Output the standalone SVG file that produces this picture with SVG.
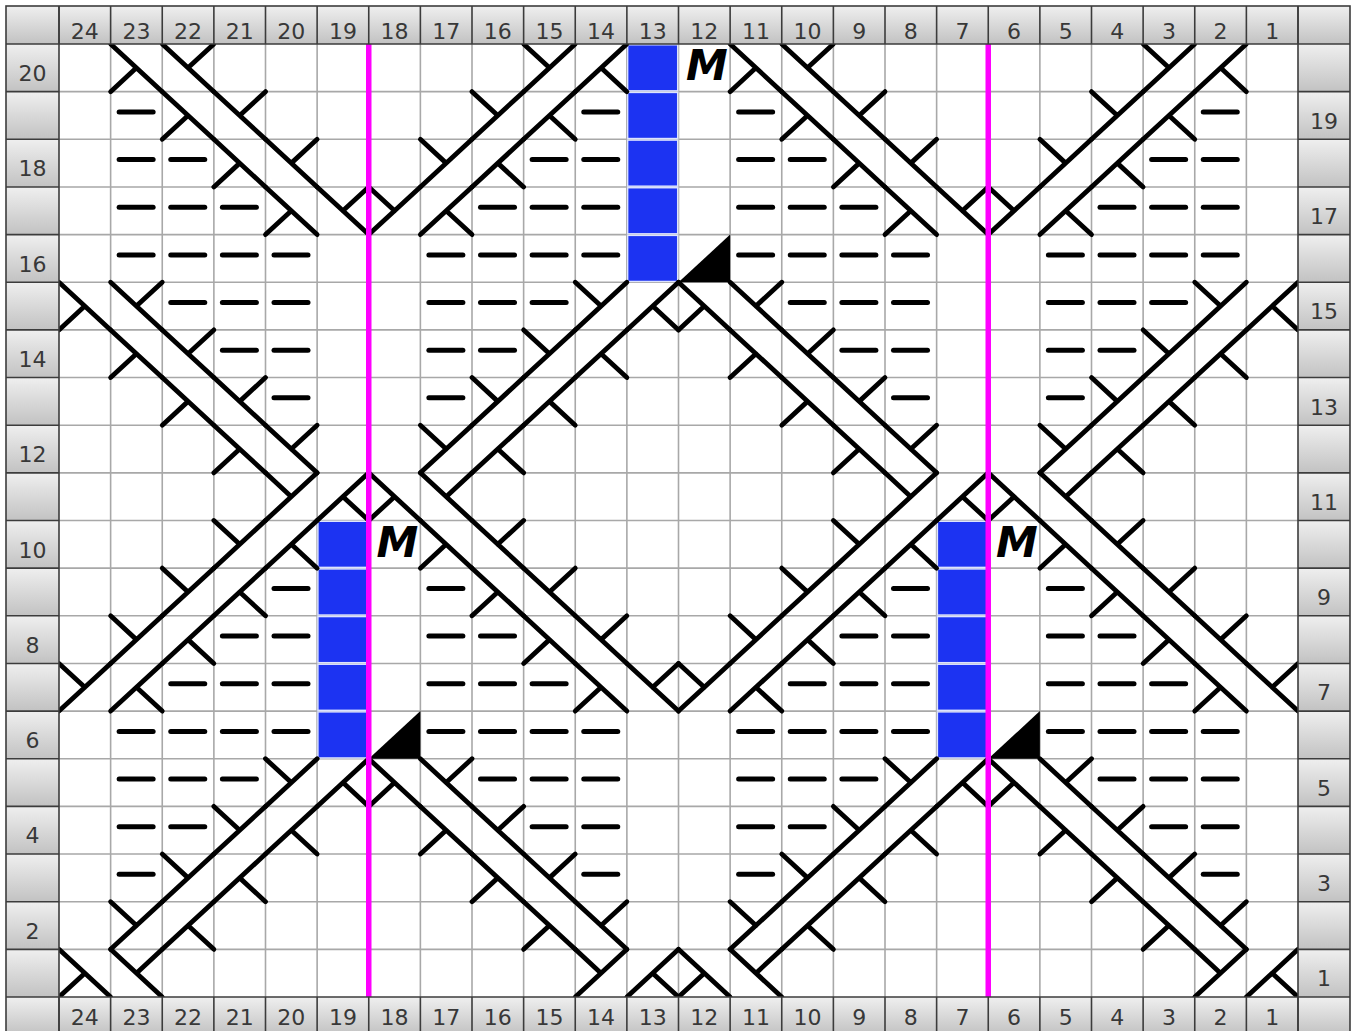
<svg xmlns="http://www.w3.org/2000/svg" xmlns:xlink="http://www.w3.org/1999/xlink" width="1354" height="1031" viewBox="0 0 1354 1031">
<style>
.g{stroke:#a8a8a8;stroke-width:1.6;fill:none}
.s{stroke:#000;stroke-width:4.8;fill:none;stroke-linecap:round}
.hs{stroke:#3c3c3c;stroke-width:1.6;fill:none}
.n{font-family:"DejaVu Sans",Verdana,sans-serif;font-size:22px;fill:#383838;text-anchor:middle}
.M{font-family:"DejaVu Sans",sans-serif;font-size:42px;font-weight:bold;font-style:oblique;fill:#000}
.bl{fill:#1c33f2;stroke:#dce3ff;stroke-width:1.4}
.mg{stroke:#f0f;stroke-width:5.5;fill:none}
</style>
<defs>
<linearGradient id="hg" x1="0" y1="0" x2="0" y2="1"><stop offset="0" stop-color="#efefef"/><stop offset="1" stop-color="#c2c2c2"/></linearGradient>
<pattern id="sp" patternUnits="userSpaceOnUse" x="0" y="44" width="1354" height="47.65"><rect width="1354" height="47.65" fill="url(#hg)"/></pattern>
<path id="a" d="M0,0L51.625,47.65M0,47.65L25.81,23.83"/>
<path id="b" d="M0,0L51.625,47.65M51.625,0L25.81,23.83"/>
<path id="c" d="M0,47.65L51.625,0M0,0L25.81,23.83"/>
<path id="d" d="M0,47.65L51.625,0M51.625,47.65L25.81,23.83"/>
<path id="m" d="M8.5,20.3H42.5" stroke-width="5"/>
<path id="t" d="M0,47.65H51.625V0Z" fill="#000" stroke="none"/>
<rect id="q" x="0.8" y="0.8" width="50" height="46.05"/>
</defs>
<rect width="1354" height="1031" fill="#fff"/>
<g id="grid" class="g">
<path d="M110.625,44V997M162.25,44V997M213.875,44V997M265.5,44V997M317.125,44V997M368.75,44V997M420.375,44V997M472,44V997M523.625,44V997M575.25,44V997M626.875,44V997M678.5,44V997M730.125,44V997M781.75,44V997M833.375,44V997M885,44V997M936.625,44V997M988.25,44V997M1039.875,44V997M1091.5,44V997M1143.125,44V997M1194.75,44V997M1246.375,44V997"/>
<path d="M59,91.65H1298M59,139.3H1298M59,186.95H1298M59,234.6H1298M59,282.25H1298M59,329.9H1298M59,377.55H1298M59,425.2H1298M59,472.85H1298M59,520.5H1298M59,568.15H1298M59,615.8H1298M59,663.45H1298M59,711.1H1298M59,758.75H1298M59,806.4H1298M59,854.05H1298M59,901.7H1298M59,949.35H1298"/>
</g>
<g id="blue" class="bl">
<use href="#q" x="626.875" y="44"/><use href="#q" x="626.875" y="91.65"/><use href="#q" x="626.875" y="139.3"/><use href="#q" x="626.875" y="186.95"/><use href="#q" x="626.875" y="234.6"/>
<use href="#q" x="317.125" y="520.5"/><use href="#q" x="317.125" y="568.15"/><use href="#q" x="317.125" y="615.8"/><use href="#q" x="317.125" y="663.45"/><use href="#q" x="317.125" y="711.1"/>
<use href="#q" x="936.625" y="520.5"/><use href="#q" x="936.625" y="568.15"/><use href="#q" x="936.625" y="615.8"/><use href="#q" x="936.625" y="663.45"/><use href="#q" x="936.625" y="711.1"/>
</g>
<g id="triangles">
<use href="#t" x="678.5" y="234.6"/><use href="#t" x="368.75" y="711.1"/><use href="#t" x="988.25" y="711.1"/>
</g>
<g id="stitches" class="s">
<g transform="translate(0,44)"><use href="#c" x="523.625"/><use href="#d" x="575.25"/><use href="#a" x="730.125"/><use href="#b" x="781.75"/><use href="#c" x="1143.125"/><use href="#d" x="1194.75"/><use href="#a" x="110.625"/><use href="#b" x="162.25"/></g>
<g transform="translate(0,91.65)"><use href="#c" x="472"/><use href="#d" x="523.625"/><use href="#m" x="575.25"/><use href="#m" x="730.125"/><use href="#a" x="781.75"/><use href="#b" x="833.375"/><use href="#c" x="1091.5"/><use href="#d" x="1143.125"/><use href="#m" x="1194.75"/><use href="#m" x="110.625"/><use href="#a" x="162.25"/><use href="#b" x="213.875"/></g>
<g transform="translate(0,139.3)"><use href="#c" x="420.375"/><use href="#d" x="472"/><use href="#m" x="523.625"/><use href="#m" x="575.25"/><use href="#m" x="730.125"/><use href="#m" x="781.75"/><use href="#a" x="833.375"/><use href="#b" x="885"/><use href="#c" x="1039.875"/><use href="#d" x="1091.5"/><use href="#m" x="1143.125"/><use href="#m" x="1194.75"/><use href="#m" x="110.625"/><use href="#m" x="162.25"/><use href="#a" x="213.875"/><use href="#b" x="265.5"/></g>
<g transform="translate(0,186.95)"><use href="#c" x="368.75"/><use href="#d" x="420.375"/><use href="#m" x="472"/><use href="#m" x="523.625"/><use href="#m" x="575.25"/><use href="#m" x="730.125"/><use href="#m" x="781.75"/><use href="#m" x="833.375"/><use href="#a" x="885"/><use href="#b" x="936.625"/><use href="#c" x="988.25"/><use href="#d" x="1039.875"/><use href="#m" x="1091.5"/><use href="#m" x="1143.125"/><use href="#m" x="1194.75"/><use href="#m" x="110.625"/><use href="#m" x="162.25"/><use href="#m" x="213.875"/><use href="#a" x="265.5"/><use href="#b" x="317.125"/></g>
<g transform="translate(0,234.6)"><use href="#m" x="420.375"/><use href="#m" x="472"/><use href="#m" x="523.625"/><use href="#m" x="575.25"/><use href="#m" x="730.125"/><use href="#m" x="781.75"/><use href="#m" x="833.375"/><use href="#m" x="885"/><use href="#m" x="1039.875"/><use href="#m" x="1091.5"/><use href="#m" x="1143.125"/><use href="#m" x="1194.75"/><use href="#m" x="110.625"/><use href="#m" x="162.25"/><use href="#m" x="213.875"/><use href="#m" x="265.5"/></g>
<g transform="translate(0,282.25)"><use href="#m" x="420.375"/><use href="#m" x="472"/><use href="#m" x="523.625"/><use href="#c" x="575.25"/><use href="#d" x="626.875"/><use href="#a" x="678.5"/><use href="#b" x="730.125"/><use href="#m" x="781.75"/><use href="#m" x="833.375"/><use href="#m" x="885"/><use href="#m" x="1039.875"/><use href="#m" x="1091.5"/><use href="#m" x="1143.125"/><use href="#c" x="1194.75"/><use href="#d" x="1246.375"/><use href="#a" x="59"/><use href="#b" x="110.625"/><use href="#m" x="162.25"/><use href="#m" x="213.875"/><use href="#m" x="265.5"/></g>
<g transform="translate(0,329.9)"><use href="#m" x="420.375"/><use href="#m" x="472"/><use href="#c" x="523.625"/><use href="#d" x="575.25"/><use href="#a" x="730.125"/><use href="#b" x="781.75"/><use href="#m" x="833.375"/><use href="#m" x="885"/><use href="#m" x="1039.875"/><use href="#m" x="1091.5"/><use href="#c" x="1143.125"/><use href="#d" x="1194.75"/><use href="#a" x="110.625"/><use href="#b" x="162.25"/><use href="#m" x="213.875"/><use href="#m" x="265.5"/></g>
<g transform="translate(0,377.55)"><use href="#m" x="420.375"/><use href="#c" x="472"/><use href="#d" x="523.625"/><use href="#a" x="781.75"/><use href="#b" x="833.375"/><use href="#m" x="885"/><use href="#m" x="1039.875"/><use href="#c" x="1091.5"/><use href="#d" x="1143.125"/><use href="#a" x="162.25"/><use href="#b" x="213.875"/><use href="#m" x="265.5"/></g>
<g transform="translate(0,425.2)"><use href="#c" x="420.375"/><use href="#d" x="472"/><use href="#a" x="833.375"/><use href="#b" x="885"/><use href="#c" x="1039.875"/><use href="#d" x="1091.5"/><use href="#a" x="213.875"/><use href="#b" x="265.5"/></g>
<g transform="translate(0,472.85)"><use href="#a" x="368.75"/><use href="#b" x="420.375"/><use href="#c" x="885"/><use href="#d" x="936.625"/><use href="#a" x="988.25"/><use href="#b" x="1039.875"/><use href="#c" x="265.5"/><use href="#d" x="317.125"/></g>
<g transform="translate(0,520.5)"><use href="#c" x="213.875"/><use href="#d" x="265.5"/><use href="#a" x="420.375"/><use href="#b" x="472"/><use href="#c" x="833.375"/><use href="#d" x="885"/><use href="#a" x="1039.875"/><use href="#b" x="1091.5"/></g>
<g transform="translate(0,568.15)"><use href="#c" x="162.25"/><use href="#d" x="213.875"/><use href="#m" x="265.5"/><use href="#m" x="420.375"/><use href="#a" x="472"/><use href="#b" x="523.625"/><use href="#c" x="781.75"/><use href="#d" x="833.375"/><use href="#m" x="885"/><use href="#m" x="1039.875"/><use href="#a" x="1091.5"/><use href="#b" x="1143.125"/></g>
<g transform="translate(0,615.8)"><use href="#c" x="110.625"/><use href="#d" x="162.25"/><use href="#m" x="213.875"/><use href="#m" x="265.5"/><use href="#m" x="420.375"/><use href="#m" x="472"/><use href="#a" x="523.625"/><use href="#b" x="575.25"/><use href="#c" x="730.125"/><use href="#d" x="781.75"/><use href="#m" x="833.375"/><use href="#m" x="885"/><use href="#m" x="1039.875"/><use href="#m" x="1091.5"/><use href="#a" x="1143.125"/><use href="#b" x="1194.75"/></g>
<g transform="translate(0,663.45)"><use href="#c" x="59"/><use href="#d" x="110.625"/><use href="#m" x="162.25"/><use href="#m" x="213.875"/><use href="#m" x="265.5"/><use href="#m" x="420.375"/><use href="#m" x="472"/><use href="#m" x="523.625"/><use href="#a" x="575.25"/><use href="#b" x="626.875"/><use href="#c" x="678.5"/><use href="#d" x="730.125"/><use href="#m" x="781.75"/><use href="#m" x="833.375"/><use href="#m" x="885"/><use href="#m" x="1039.875"/><use href="#m" x="1091.5"/><use href="#m" x="1143.125"/><use href="#a" x="1194.75"/><use href="#b" x="1246.375"/></g>
<g transform="translate(0,711.1)"><use href="#m" x="110.625"/><use href="#m" x="162.25"/><use href="#m" x="213.875"/><use href="#m" x="265.5"/><use href="#m" x="420.375"/><use href="#m" x="472"/><use href="#m" x="523.625"/><use href="#m" x="575.25"/><use href="#m" x="730.125"/><use href="#m" x="781.75"/><use href="#m" x="833.375"/><use href="#m" x="885"/><use href="#m" x="1039.875"/><use href="#m" x="1091.5"/><use href="#m" x="1143.125"/><use href="#m" x="1194.75"/></g>
<g transform="translate(0,758.75)"><use href="#m" x="110.625"/><use href="#m" x="162.25"/><use href="#m" x="213.875"/><use href="#c" x="265.5"/><use href="#d" x="317.125"/><use href="#a" x="368.75"/><use href="#b" x="420.375"/><use href="#m" x="472"/><use href="#m" x="523.625"/><use href="#m" x="575.25"/><use href="#m" x="730.125"/><use href="#m" x="781.75"/><use href="#m" x="833.375"/><use href="#c" x="885"/><use href="#d" x="936.625"/><use href="#a" x="988.25"/><use href="#b" x="1039.875"/><use href="#m" x="1091.5"/><use href="#m" x="1143.125"/><use href="#m" x="1194.75"/></g>
<g transform="translate(0,806.4)"><use href="#m" x="110.625"/><use href="#m" x="162.25"/><use href="#c" x="213.875"/><use href="#d" x="265.5"/><use href="#a" x="420.375"/><use href="#b" x="472"/><use href="#m" x="523.625"/><use href="#m" x="575.25"/><use href="#m" x="730.125"/><use href="#m" x="781.75"/><use href="#c" x="833.375"/><use href="#d" x="885"/><use href="#a" x="1039.875"/><use href="#b" x="1091.5"/><use href="#m" x="1143.125"/><use href="#m" x="1194.75"/></g>
<g transform="translate(0,854.05)"><use href="#m" x="110.625"/><use href="#c" x="162.25"/><use href="#d" x="213.875"/><use href="#a" x="472"/><use href="#b" x="523.625"/><use href="#m" x="575.25"/><use href="#m" x="730.125"/><use href="#c" x="781.75"/><use href="#d" x="833.375"/><use href="#a" x="1091.5"/><use href="#b" x="1143.125"/><use href="#m" x="1194.75"/></g>
<g transform="translate(0,901.7)"><use href="#c" x="110.625"/><use href="#d" x="162.25"/><use href="#a" x="523.625"/><use href="#b" x="575.25"/><use href="#c" x="730.125"/><use href="#d" x="781.75"/><use href="#a" x="1143.125"/><use href="#b" x="1194.75"/></g>
<g transform="translate(0,949.35)"><use href="#a" x="59"/><use href="#b" x="110.625"/><use href="#c" x="575.25"/><use href="#d" x="626.875"/><use href="#a" x="678.5"/><use href="#b" x="730.125"/><use href="#c" x="1194.75"/><use href="#d" x="1246.375"/></g>
</g>
<g id="marks">
<text class="M" x="686" y="80">M</text>
<text class="M" x="376.5" y="556.5">M</text>
<text class="M" x="996" y="556.5">M</text>
</g>
<g id="magenta" class="mg"><path d="M368.75,44V997M988.25,44V997"/></g>
<g id="headers">
<rect x="6" y="6" width="1344" height="38" fill="url(#hg)"/>
<rect x="6" y="997" width="1344" height="38" fill="url(#hg)"/>
<rect x="6" y="44" width="53" height="953" fill="url(#sp)"/>
<rect x="1298" y="44" width="52" height="953" fill="url(#sp)"/>
<path class="hs" d="M59,6V44M110.625,6V44M162.25,6V44M213.875,6V44M265.5,6V44M317.125,6V44M368.75,6V44M420.375,6V44M472,6V44M523.625,6V44M575.25,6V44M626.875,6V44M678.5,6V44M730.125,6V44M781.75,6V44M833.375,6V44M885,6V44M936.625,6V44M988.25,6V44M1039.875,6V44M1091.5,6V44M1143.125,6V44M1194.75,6V44M1246.375,6V44M1298,6V44"/>
<path class="hs" d="M59,997V1035M110.625,997V1035M162.25,997V1035M213.875,997V1035M265.5,997V1035M317.125,997V1035M368.75,997V1035M420.375,997V1035M472,997V1035M523.625,997V1035M575.25,997V1035M626.875,997V1035M678.5,997V1035M730.125,997V1035M781.75,997V1035M833.375,997V1035M885,997V1035M936.625,997V1035M988.25,997V1035M1039.875,997V1035M1091.5,997V1035M1143.125,997V1035M1194.75,997V1035M1246.375,997V1035M1298,997V1035"/>
<path class="hs" d="M6,91.65H59M6,139.3H59M6,186.95H59M6,234.6H59M6,282.25H59M6,329.9H59M6,377.55H59M6,425.2H59M6,472.85H59M6,520.5H59M6,568.15H59M6,615.8H59M6,663.45H59M6,711.1H59M6,758.75H59M6,806.4H59M6,854.05H59M6,901.7H59M6,949.35H59"/>
<path class="hs" d="M1298,91.65H1350M1298,139.3H1350M1298,186.95H1350M1298,234.6H1350M1298,282.25H1350M1298,329.9H1350M1298,377.55H1350M1298,425.2H1350M1298,472.85H1350M1298,520.5H1350M1298,568.15H1350M1298,615.8H1350M1298,663.45H1350M1298,711.1H1350M1298,758.75H1350M1298,806.4H1350M1298,854.05H1350M1298,901.7H1350M1298,949.35H1350"/>
<path class="hs" stroke-width="2.2" d="M6,44H1350M6,997H1350M59,6V1035M1298,6V1035"/>
<rect class="hs" stroke-width="2" x="6" y="6" width="1344" height="1029"/>
</g>
<g id="col-top" class="n">
<text x="84.81" y="38.5">24</text><text x="136.44" y="38.5">23</text><text x="188.06" y="38.5">22</text><text x="239.69" y="38.5">21</text><text x="291.31" y="38.5">20</text><text x="342.94" y="38.5">19</text><text x="394.56" y="38.5">18</text><text x="446.19" y="38.5">17</text><text x="497.81" y="38.5">16</text><text x="549.44" y="38.5">15</text><text x="601.06" y="38.5">14</text><text x="652.69" y="38.5">13</text><text x="704.31" y="38.5">12</text><text x="755.94" y="38.5">11</text><text x="807.56" y="38.5">10</text><text x="859.19" y="38.5">9</text><text x="910.81" y="38.5">8</text><text x="962.44" y="38.5">7</text><text x="1014.06" y="38.5">6</text><text x="1065.69" y="38.5">5</text><text x="1117.31" y="38.5">4</text><text x="1168.94" y="38.5">3</text><text x="1220.56" y="38.5">2</text><text x="1272.19" y="38.5">1</text>
</g>
<g id="col-bottom" class="n">
<text x="84.81" y="1024.5">24</text><text x="136.44" y="1024.5">23</text><text x="188.06" y="1024.5">22</text><text x="239.69" y="1024.5">21</text><text x="291.31" y="1024.5">20</text><text x="342.94" y="1024.5">19</text><text x="394.56" y="1024.5">18</text><text x="446.19" y="1024.5">17</text><text x="497.81" y="1024.5">16</text><text x="549.44" y="1024.5">15</text><text x="601.06" y="1024.5">14</text><text x="652.69" y="1024.5">13</text><text x="704.31" y="1024.5">12</text><text x="755.94" y="1024.5">11</text><text x="807.56" y="1024.5">10</text><text x="859.19" y="1024.5">9</text><text x="910.81" y="1024.5">8</text><text x="962.44" y="1024.5">7</text><text x="1014.06" y="1024.5">6</text><text x="1065.69" y="1024.5">5</text><text x="1117.31" y="1024.5">4</text><text x="1168.94" y="1024.5">3</text><text x="1220.56" y="1024.5">2</text><text x="1272.19" y="1024.5">1</text>
</g>
<g id="row-left" class="n">
<text x="32.5" y="81">20</text><text x="32.5" y="176.3">18</text><text x="32.5" y="271.6">16</text><text x="32.5" y="366.9">14</text><text x="32.5" y="462.2">12</text><text x="32.5" y="557.5">10</text><text x="32.5" y="652.8">8</text><text x="32.5" y="748.1">6</text><text x="32.5" y="843.4">4</text><text x="32.5" y="938.7">2</text>
</g>
<g id="row-right" class="n">
<text x="1324" y="128.65">19</text><text x="1324" y="223.95">17</text><text x="1324" y="319.25">15</text><text x="1324" y="414.55">13</text><text x="1324" y="509.85">11</text><text x="1324" y="605.15">9</text><text x="1324" y="700.45">7</text><text x="1324" y="795.75">5</text><text x="1324" y="891.05">3</text><text x="1324" y="986.35">1</text>
</g>
</svg>
